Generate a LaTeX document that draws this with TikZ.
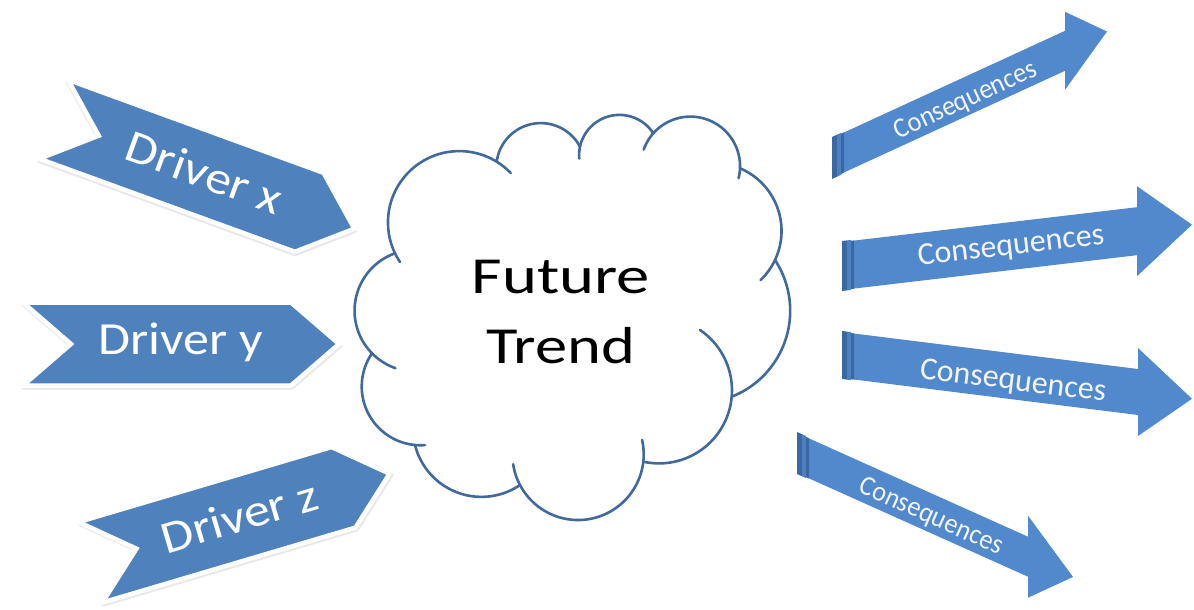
\documentclass[tikz,border=0pt]{standalone}
\usepackage{fontspec}
\setmainfont{Carlito}
\definecolor{chevblue}{HTML}{4F81BD}
\definecolor{arrowblue}{HTML}{5289CC}
\definecolor{stripdark}{HTML}{3B68A3}
\definecolor{stripmid}{HTML}{4D80C0}
\definecolor{cloudblue}{HTML}{41699B}
\definecolor{labelwhite}{HTML}{F2F6FC}
\tikzset{
  cloudline/.style={draw=cloudblue, line width=2.6pt, line cap=round},
  chevbody/.style={fill=chevblue, draw=white, line width=4.5pt, line join=miter},
  chevshade/.style={fill=black!9, draw=black!9, line width=5.5pt, line join=round},
  drivertext/.style={text=white, font=\fontsize{46}{50}\selectfont, transform shape, inner sep=0pt},
  constext/.style={text=labelwhite, inner sep=0pt},
  trendtext/.style={text=black, font=\fontsize{52}{70}\selectfont, align=center, inner sep=0pt},
}
% circle arc through P(#1,#2), M(#3,#4), Q(#5,#6), extended by #7 px before P and #8 px after Q
\newcommand\cloudpuff[8]{%
  \edef\cpbx{\fpeval{(#3)-(#1)}}%
  \edef\cpby{\fpeval{(#4)-(#2)}}%
  \edef\cpcx{\fpeval{(#5)-(#1)}}%
  \edef\cpcy{\fpeval{(#6)-(#2)}}%
  \edef\cpD{\fpeval{2*((\cpbx)*(\cpcy)-(\cpby)*(\cpcx))}}%
  \edef\cpBB{\fpeval{(\cpbx)^2+(\cpby)^2}}%
  \edef\cpCC{\fpeval{(\cpcx)^2+(\cpcy)^2}}%
  \edef\cpux{\fpeval{((\cpcy)*(\cpBB)-(\cpby)*(\cpCC))/(\cpD)}}%
  \edef\cpuy{\fpeval{((\cpbx)*(\cpCC)-(\cpcx)*(\cpBB))/(\cpD)}}%
  \edef\cprad{\fpeval{round(sqrt((\cpux)^2+(\cpuy)^2),3)}}%
  \edef\cpaP{\fpeval{atand(-(\cpuy),-(\cpux))}}%
  \edef\cpaM{\fpeval{atand((\cpby)-(\cpuy),(\cpbx)-(\cpux))}}%
  \edef\cpaQ{\fpeval{atand((\cpcy)-(\cpuy),(\cpcx)-(\cpux))}}%
  \edef\cpdM{\fpeval{(\cpaM)-(\cpaP)-360*floor(((\cpaM)-(\cpaP))/360)}}%
  \edef\cpdQ{\fpeval{(\cpaQ)-(\cpaP)-360*floor(((\cpaQ)-(\cpaP))/360)}}%
  \edef\cpsw{\fpeval{(\cpdM)<(\cpdQ) ? (\cpdQ) : (\cpdQ)-360}}%
  \edef\cpsg{\fpeval{(\cpsw)>0 ? 1 : -1}}%
  \edef\cpst{\fpeval{round((\cpaP)-(\cpsg)*(#7)/(\cprad)*180/pi,3)}}%
  \edef\cpen{\fpeval{round((\cpaP)+(\cpsw)+(\cpsg)*(#8)/(\cprad)*180/pi,3)}}%
  \edef\cpox{\fpeval{round((#1)+(\cpux),3)}}%
  \edef\cpoy{\fpeval{round((#2)+(\cpuy),3)}}%
  \draw[cloudline] plot[domain=\cpst:\cpen, samples=80, variable=\ang]
    ({\cpox+\cprad*cos(\ang)},{\cpoy+\cprad*sin(\ang)});%
}
% chevron: #1 name, #2 cx, #3 cy, #4 angle, #5 length, #6 height, #7 text
\newcommand\chevron[7]{%
  \begin{scope}[shift={(#2,#3)}, rotate=#4]
    \pgfmathsetmacro\chA{(#5+48)/2}%
    \pgfmathsetmacro\chB{(#5-48)/2}%
    \pgfmathsetmacro\chH{#6/2}%
    \begin{scope}[shift={(0.8,1.4)}]
      \path[chevshade] (-\chA,-\chH) -- (\chB,-\chH) -- (\chA,0) -- (\chB,\chH) -- (-\chA,\chH) -- (-\chB,0) -- cycle;
    \end{scope}
    \path[chevbody] (-\chA,-\chH) -- (\chB,-\chH) -- (\chA,0) -- (\chB,\chH) -- (-\chA,\chH) -- (-\chB,0) -- cycle;
    \node[drivertext] (#1) at (0,-2) {\scalebox{1.13}[1]{#7}};
  \end{scope}}
% consequence arrow: #1 x0, #2 centre y at x0, #3 slope, #4 shaft height, #5 shaft length, #6 head half height, #7 head length
\newcommand\consarrow[7]{%
  \pgfmathsetmacro\caH{#4/2}%
  \fill[arrowblue] (#1,{#2-\caH}) -- ({#1+#5},{#2+(#3)*#5-\caH}) -- ({#1+#5},{#2+(#3)*#5-#6})
    -- ({#1+#5+#7},{#2+(#3)*(#5+#7)}) -- ({#1+#5},{#2+(#3)*#5+#6}) -- ({#1+#5},{#2+(#3)*#5+\caH})
    -- (#1,{#2+\caH}) -- cycle;
  \fill[stripdark] (#1,{#2-\caH-1}) -- ({#1+5},{#2+(#3)*5-\caH-1}) -- ({#1+5},{#2+(#3)*5+\caH+1}) -- (#1,{#2+\caH+1}) -- cycle;
  \fill[stripmid] ({#1+5},{#2+(#3)*5-\caH-1}) -- ({#1+9},{#2+(#3)*9-\caH-1}) -- ({#1+9},{#2+(#3)*9+\caH+1}) -- ({#1+5},{#2+(#3)*5+\caH+1}) -- cycle;
  \fill[stripdark] ({#1+9},{#2+(#3)*9-\caH}) -- ({#1+12},{#2+(#3)*12-\caH}) -- ({#1+12},{#2+(#3)*12+\caH}) -- ({#1+9},{#2+(#3)*9+\caH}) -- cycle;
}
\begin{document}
\begin{tikzpicture}[x=1pt,y=-1pt]
\useasboundingbox (0,0) rectangle (1194,610);
\fill[white] (0,0) rectangle (1194,610);

% drivers
\chevron{drvx}{204}{174}{-20}{272}{84}{Driver x}
\chevron{drvy}{181}{344}{0}{268}{83}{Driver y}
\chevron{drvz}{240}{518}{16.5}{264}{84}{Driver z}

% cloud
\cloudpuff{395}{253.3}{450}{151.7}{496.7}{161.7}{10}{18}
\cloudpuff{496.7}{161.7}{536.7}{123.3}{580}{146.7}{0}{0}
\cloudpuff{580}{146.7}{616.7}{115}{653.3}{133.3}{12}{0}
\cloudpuff{653.3}{133.3}{693.3}{116.7}{740}{168.3}{19}{10}
\cloudpuff{740}{168.3}{780}{216.7}{775}{260}{0}{25}
\cloudpuff{775}{260}{790}{316.7}{731.7}{396.7}{0}{0}
\cloudpuff{700}{330}{731.7}{396.7}{643.3}{461.7}{0}{0}
\cloudpuff{643.3}{461.7}{580}{520}{520}{485}{22}{22}
\cloudpuff{520}{485}{476.7}{496.7}{415}{445}{0}{0}
\cloudpuff{415}{445}{363.3}{400}{372}{353.3}{10}{0}
\cloudpuff{372}{353.3}{355}{303.3}{395}{253.3}{28}{0}
\node[trendtext] (trend) at (561,312) {\scalebox{1.28}[1]{Future}\\\scalebox{1.24}[1]{Trend}};

% consequences
\consarrow{832}{158}{-0.46}{40}{233}{39}{42}
\node[constext, font=\fontsize{28}{32}\selectfont, rotate=24.7] (cons1) at (966,101) {\scalebox{0.94}[1]{Consequences}};
\consarrow{842}{266}{-0.118}{48}{295}{45}{55}
\node[constext, font=\fontsize{32}{36}\selectfont, rotate=6.7] (cons2) at (1011,247) {Consequences};
\consarrow{842}{355}{0.125}{46}{296}{44}{54}
\node[constext, font=\fontsize{32}{36}\selectfont, rotate=-7.1] (cons3) at (1013,382) {Consequences};
\consarrow{797}{453}{0.449}{40}{231}{41}{45}
\node[constext, font=\fontsize{28}{32}\selectfont, rotate=-24.2] (cons4) at (931,517) {\scalebox{0.94}[1]{Consequences}};
\end{tikzpicture}
\end{document}
